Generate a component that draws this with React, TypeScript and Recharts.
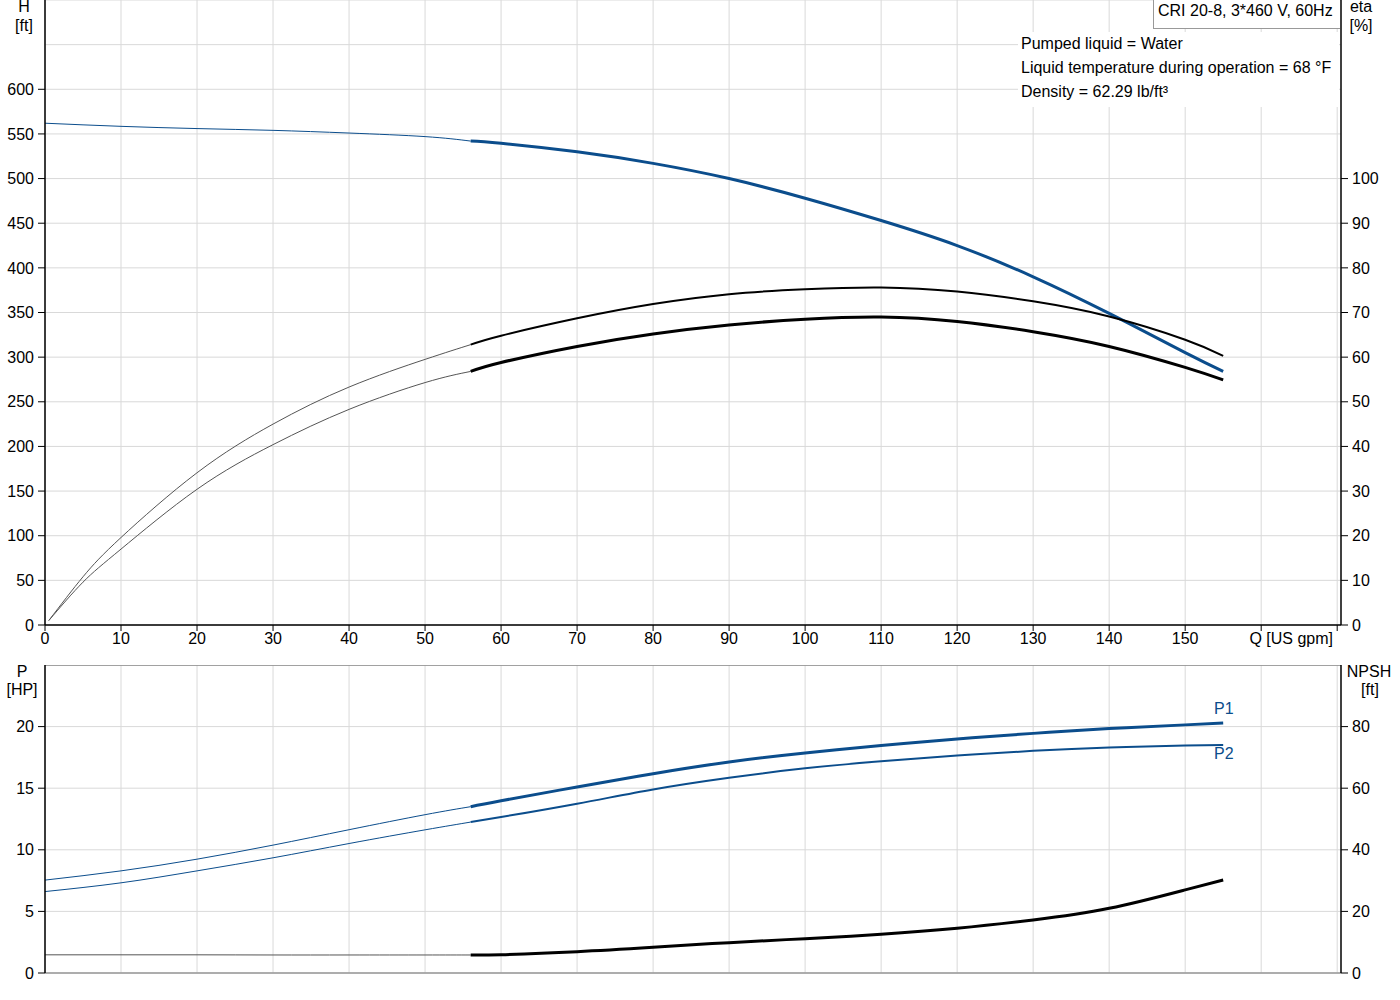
import React from "react";
import { ComposedChart, Line, XAxis, YAxis, CartesianGrid, ReferenceLine } from "recharts";

// Flow (US gpm) sample points
const Q_LOW = [0, 10, 20, 30, 40, 50, 56];
const Q_OP = [56, 60, 70, 80, 90, 100, 110, 120, 130, 140, 150, 155];
const Q_ETA_LOW = [0.5, 5, 10, 20, 30, 40, 50, 56];

// Head H [ft]
const H_LOW = [562, 558.5, 556, 554, 551, 547, 542];
const H_OP = [542, 539.5, 530, 517, 500, 478, 453, 425, 390, 349, 305, 284];

// Efficiencies [%]
const ETA1_LOW = [1, 10.8, 19.6, 34.1, 45.0, 53.3, 59.5, 62.8];
const ETA1_OP = [62.8, 64.8, 68.7, 71.9, 74.1, 75.2, 75.6, 74.7, 72.5, 69.1, 63.9, 60.3];
const ETA2_LOW = [1, 9.6, 17.0, 30.4, 40.4, 48.3, 54.3, 56.8];
const ETA2_OP = [56.8, 58.8, 62.4, 65.2, 67.2, 68.5, 69.0, 68.0, 65.7, 62.4, 57.7, 54.9];

// Power [HP]
const P1_LOW = [7.54, 8.29, 9.24, 10.38, 11.63, 12.85, 13.5];
const P1_OP = [13.5, 13.98, 15.1, 16.18, 17.13, 17.86, 18.46, 19.0, 19.45, 19.84, 20.14, 20.3];
const P2_LOW = [6.61, 7.32, 8.29, 9.35, 10.51, 11.62, 12.25];
const P2_OP = [12.25, 12.66, 13.74, 14.9, 15.85, 16.61, 17.18, 17.65, 18.03, 18.3, 18.46, 18.5];

// NPSH [ft]
const NPSH_LOW = [5.9, 5.9, 5.9, 5.85, 5.85, 5.85, 5.85];
const NPSH_OP = [5.85, 5.95, 6.93, 8.36, 9.86, 11.15, 12.57, 14.5, 17.2, 21.0, 27.0, 30.2];

// Axis ticks
const X_TICKS = [0, 10, 20, 30, 40, 50, 60, 70, 80, 90, 100, 110, 120, 130, 140, 150, 160, 170];
const H_TICKS = [0, 50, 100, 150, 200, 250, 300, 350, 400, 450, 500, 550, 600];
const H_GRID = [0, 50, 100, 150, 200, 250, 300, 350, 400, 450, 500, 550, 600, 650, 700];
const ETA_TICKS = [0, 10, 20, 30, 40, 50, 60, 70, 80, 90, 100];
const P_TICKS = [0, 5, 10, 15, 20];
const P_GRID = [0, 5, 10, 15, 20, 25];
const NPSH_TICKS = [0, 20, 40, 60, 80];

const BLUE = "#0b4d8c";
const FONT = '"Liberation Sans", Arial, sans-serif';
const GRID = "#d9d9d9";

const pts = (qs: number[], vs: number[]) => qs.map((q, i) => ({ q, v: vs[i] }));

const tickStyle = { fill: "#000", fontSize: 16, fontFamily: FONT };

const txt = (
  s: string,
  left: number,
  top: number,
  extra: React.CSSProperties = {}
): React.ReactElement => (
  <div
    style={{
      position: "absolute",
      left,
      top,
      fontFamily: FONT,
      fontSize: 16,
      lineHeight: "18px",
      whiteSpace: "nowrap",
      color: "#000",
      ...extra,
    }}
  >
    {s}
  </div>
);

const centered = (s: string, cx: number, cy: number, extra: React.CSSProperties = {}) =>
  txt(s, cx - 50, cy - 9, { width: 100, textAlign: "center", ...extra });

export default function App() {
  const xAxisCommon = {
    type: "number" as const,
    dataKey: "q",
    domain: [0, 170.5] as [number, number],
    ticks: X_TICKS,
    allowDataOverflow: true,
    interval: 0 as const,
  };
  const curve = "natural" as const;

  return (
    <div style={{ position: "absolute", left: 0, top: 0, width: 1400, height: 1000, background: "#fff" }}>
      {/* Top panel: H and eta */}
      <div style={{ position: "absolute", left: 0, top: 0 }}>
        <ComposedChart width={1400} height={655} margin={{ top: 0, right: 0, bottom: 0, left: 0 }}>
          <CartesianGrid
            stroke={GRID}
            yAxisId="h"
            horizontalValues={H_GRID}
            verticalValues={X_TICKS}
          />
          <XAxis
            {...xAxisCommon}
            height={30}
            tickSize={6}
            tickMargin={2}
            axisLine={{ stroke: "#000", strokeWidth: 1.5 }}
            tickLine={{ stroke: "#000" }}
            tick={tickStyle}
            tickFormatter={(v: number) => (v <= 150 ? String(v) : "")}
          />
          <YAxis
            yAxisId="h"
            domain={[0, 700]}
            ticks={H_TICKS}
            interval={0}
            width={45}
            tickSize={7}
            tickMargin={4}
            axisLine={{ stroke: "#000", strokeWidth: 1.5 }}
            tickLine={{ stroke: "#000" }}
            tick={tickStyle}
            allowDataOverflow
          />
          <YAxis
            yAxisId="eta"
            orientation="right"
            domain={[0, 140]}
            ticks={ETA_TICKS}
            interval={0}
            width={59}
            tickSize={7}
            tickMargin={4}
            axisLine={{ stroke: "#000", strokeWidth: 1.5 }}
            tickLine={{ stroke: "#000" }}
            tick={tickStyle}
            allowDataOverflow
          />
          <Line yAxisId="h" data={pts(Q_LOW, H_LOW)} dataKey="v" type={curve} dot={false} stroke={BLUE} strokeWidth={1} isAnimationActive={false} />
          <Line yAxisId="h" data={pts(Q_OP, H_OP)} dataKey="v" type={curve} dot={false} stroke={BLUE} strokeWidth={3} isAnimationActive={false} />
          <Line yAxisId="eta" data={pts(Q_ETA_LOW, ETA1_LOW)} dataKey="v" type={curve} dot={false} stroke="#555" strokeWidth={1} isAnimationActive={false} />
          <Line yAxisId="eta" data={pts(Q_OP, ETA1_OP)} dataKey="v" type={curve} dot={false} stroke="#000" strokeWidth={2} isAnimationActive={false} />
          <Line yAxisId="eta" data={pts(Q_ETA_LOW, ETA2_LOW)} dataKey="v" type={curve} dot={false} stroke="#555" strokeWidth={1} isAnimationActive={false} />
          <Line yAxisId="eta" data={pts(Q_OP, ETA2_OP)} dataKey="v" type={curve} dot={false} stroke="#000" strokeWidth={3} isAnimationActive={false} />
        </ComposedChart>
      </div>

      {/* Bottom panel: P and NPSH */}
      <div style={{ position: "absolute", left: 0, top: 665 }}>
        <ComposedChart width={1400} height={330} margin={{ top: 0, right: 0, bottom: 22, left: 0 }}>
          <CartesianGrid
            stroke={GRID}
            yAxisId="p"
            horizontalValues={P_GRID}
            verticalValues={X_TICKS}
          />
          <XAxis {...xAxisCommon} hide />
          <YAxis
            yAxisId="p"
            domain={[0, 25]}
            ticks={P_TICKS}
            interval={0}
            width={45}
            tickSize={7}
            tickMargin={4}
            axisLine={{ stroke: "#000", strokeWidth: 1.5 }}
            tickLine={{ stroke: "#000" }}
            tick={tickStyle}
            allowDataOverflow
          />
          <YAxis
            yAxisId="npsh"
            orientation="right"
            domain={[0, 100]}
            ticks={NPSH_TICKS}
            interval={0}
            width={59}
            tickSize={7}
            tickMargin={4}
            axisLine={{ stroke: "#000", strokeWidth: 1.5 }}
            tickLine={{ stroke: "#000" }}
            tick={tickStyle}
            allowDataOverflow
          />
          <ReferenceLine yAxisId="p" y={25} stroke="#888" strokeWidth={1.5} />
          <ReferenceLine yAxisId="p" y={0} stroke="#999" strokeWidth={1.5} />
          <Line yAxisId="p" data={pts(Q_LOW, P1_LOW)} dataKey="v" type={curve} dot={false} stroke={BLUE} strokeWidth={1} isAnimationActive={false} />
          <Line yAxisId="p" data={pts(Q_OP, P1_OP)} dataKey="v" type={curve} dot={false} stroke={BLUE} strokeWidth={3} isAnimationActive={false} />
          <Line yAxisId="p" data={pts(Q_LOW, P2_LOW)} dataKey="v" type={curve} dot={false} stroke={BLUE} strokeWidth={1} isAnimationActive={false} />
          <Line yAxisId="p" data={pts(Q_OP, P2_OP)} dataKey="v" type={curve} dot={false} stroke={BLUE} strokeWidth={2} isAnimationActive={false} />
          <Line yAxisId="npsh" data={pts(Q_LOW, NPSH_LOW)} dataKey="v" type={curve} dot={false} stroke="#555" strokeWidth={1} isAnimationActive={false} />
          <Line yAxisId="npsh" data={pts(Q_OP, NPSH_OP)} dataKey="v" type={curve} dot={false} stroke="#000" strokeWidth={3} isAnimationActive={false} />
        </ComposedChart>
      </div>

      {/* Axis titles */}
      {centered("H", 24, 7)}
      {centered("[ft]", 24, 26)}
      {centered("eta", 1361, 7)}
      {centered("[%]", 1361, 26)}
      {centered("P", 22, 672)}
      {centered("[HP]", 22, 690)}
      {centered("NPSH", 1369, 672)}
      {centered("[ft]", 1370, 690)}
      {txt("Q [US gpm]", 1183, 630, { width: 150, textAlign: "right" })}

      {/* Curve labels */}
      {txt("P1", 1214, 700, { color: BLUE })}
      {txt("P2", 1214, 745, { color: BLUE })}

      {/* Title box */}
      <div
        style={{
          position: "absolute",
          left: 1153,
          top: 0,
          width: 186,
          height: 28,
          background: "#fff",
          border: "1px solid #999",
          borderRight: "none",
          borderTop: "none",
        }}
      />
      {txt("CRI 20-8, 3*460 V, 60Hz", 1158, 2)}

      {/* Liquid info box */}
      <div style={{ position: "absolute", left: 1018, top: 32, width: 321, height: 75, background: "#fff" }} />
      {txt("Pumped liquid = Water", 1021, 35)}
      {txt("Liquid temperature during operation = 68 °F", 1021, 59)}
      {txt("Density = 62.29 lb/ft³", 1021, 83)}
    </div>
  );
}
